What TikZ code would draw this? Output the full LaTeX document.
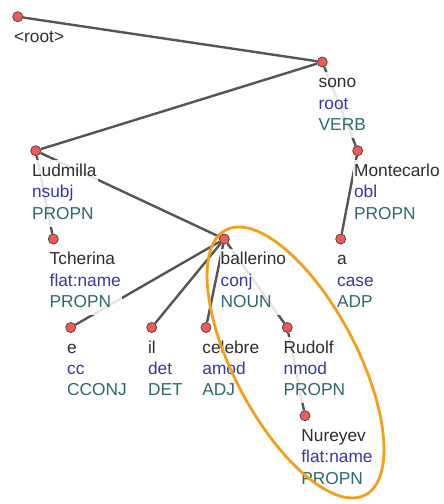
\documentclass[tikz,border=0pt]{standalone}
\usepackage{fontspec}
\setmainfont{Liberation Sans}
\usetikzlibrary{shapes, arrows}
\definecolor{wordgray}{RGB}{45,45,45}
\definecolor{relblue}{RGB}{55,55,165}
\definecolor{posteal}{RGB}{45,105,105}
\definecolor{dotred}{RGB}{236,92,92}
\definecolor{dotrim}{RGB}{95,60,60}
\definecolor{edgegray}{RGB}{85,85,85}
\definecolor{hlorange}{RGB}{242,160,28}
\pgfdeclarelayer{edges}
\pgfsetlayers{edges,main}
\tikzstyle{dot} = [circle, draw=dotrim, fill=dotred, line width=0.8pt,
    minimum size=10pt, inner sep=0pt]
\tikzstyle{tok} = [anchor=north west, xshift=-4.8pt, yshift=-9.5pt, align=left,
    inner sep=1pt, fill=white, fill opacity=0.85, text opacity=1, text=wordgray,
    font=\fontsize{17.3}{21.4}\selectfont]
\tikzstyle{line} = [draw=edgegray, line width=2.4pt]
\tikzstyle{hl} = [draw=hlorange, line width=2.8pt]
\newcommand{\tokinfo}[3]{\strut #1\\\textcolor{relblue}{\strut #2}\\\textcolor{posteal}{\strut #3}}

\begin{document}
\begin{tikzpicture}[x=1pt, y=-1pt]
        \useasboundingbox (0,0) rectangle (444,504);
        % Place nodes
        \node [dot] (root) at (17.7,16.7) {};
        \node [dot] (sono) at (322.3,62) {};
        \node [dot] (ludmilla) at (35.7,150.7) {};
        \node [dot] (montecarlo) at (357.7,150.7) {};
        \node [dot] (tcherina) at (53.3,239) {};
        \node [dot] (ballerino) at (224.3,239) {};
        \node [dot] (a) at (340.7,239) {};
        \node [dot] (e) at (70.7,327.5) {};
        \node [dot] (il) at (151.7,327.5) {};
        \node [dot] (celebre) at (206,327.5) {};
        \node [dot] (rudolf) at (287.3,327.5) {};
        \node [dot] (nureyev) at (305,415.7) {};
        % Place labels
        \node [tok] (root-t) at (root) {\strut <root>};
        \node [tok] (sono-t) at (sono) {\tokinfo{sono}{root}{VERB}};
        \node [tok] (ludmilla-t) at (ludmilla) {\tokinfo{Ludmilla}{nsubj}{PROPN}};
        \node [tok] (montecarlo-t) at (montecarlo) {\tokinfo{Montecarlo}{obl}{PROPN}};
        \node [tok] (tcherina-t) at (tcherina) {\tokinfo{Tcherina}{flat:name}{PROPN}};
        \node [tok] (ballerino-t) at (ballerino) {\tokinfo{ballerino}{conj}{NOUN}};
        \node [tok] (a-t) at (a) {\tokinfo{a}{case}{ADP}};
        \node [tok] (e-t) at (e) {\tokinfo{e}{cc}{CCONJ}};
        \node [tok] (il-t) at (il) {\tokinfo{il}{det}{DET}};
        \node [tok] (celebre-t) at (celebre) {\tokinfo{celebre}{amod}{ADJ}};
        \node [tok] (rudolf-t) at (rudolf) {\tokinfo{Rudolf}{nmod}{PROPN}};
        \node [tok] (nureyev-t) at (nureyev) {\tokinfo{Nureyev}{flat:name}{PROPN}};
        % Draw edges
        \begin{pgfonlayer}{edges}
        \path [line] (root) -- (sono);
        \path [line] (sono) -- (ludmilla);
        \path [line] (sono) -- (montecarlo);
        \path [line] (ludmilla) -- (tcherina);
        \path [line] (ludmilla) -- (ballerino);
        \path [line] (montecarlo) -- (a);
        \path [line] (ballerino) -- (e);
        \path [line] (ballerino) -- (il);
        \path [line] (ballerino) -- (celebre);
        \path [line] (ballerino) -- (rudolf);
        \path [line] (rudolf) -- (nureyev);
        \end{pgfonlayer}
        % Highlight
        \coordinate (hlc) at (295.5,362.5);
        \draw [hl, rotate around={-62.2:(hlc)}] (hlc) ellipse [x radius=149.7pt, y radius=61.4pt];
    \end{tikzpicture}
\end{document}
